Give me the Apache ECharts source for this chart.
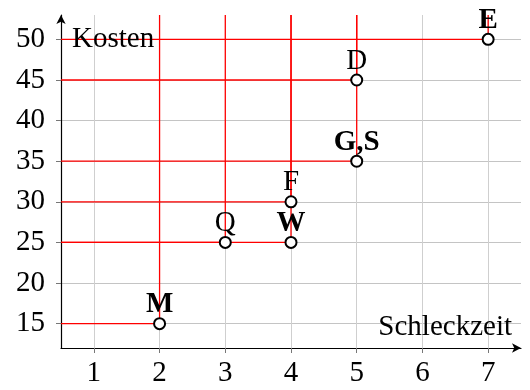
<!DOCTYPE html>
<html>
<head>
<meta charset="utf-8">
<script src="https://cdn.jsdelivr.net/npm/echarts@6/dist/echarts.min.js"></script>
<style>
  html, body { margin: 0; padding: 0; background: #fff; }
  #chart { width: 530px; height: 390px; }
</style>
</head>
<body>
<div id="chart"></div>
<script>
// tick labels
var xTicks = [1, 2, 3, 4, 5, 6, 7];
var yTicks = [15, 20, 25, 30, 35, 40, 45, 50];
// points
var names = ["M", "Q", "W", "F", "G,S", "D", "E"];
var xs = [2, 3, 4, 4, 5, 5, 7];
var ys = [15, 25, 25, 30, 35, 45, 50];
var boldLabel = [true, false, true, false, true, false, true];

var X_MIN = 0.5, X_MAX = 7.5, Y_MIN = 12, Y_MAX = 53;
var FONT = "'Liberation Serif', 'Times New Roman', serif";

var chart = echarts.init(document.getElementById("chart"));

var series = [];
// red lines: horizontal from the y axis to the point, vertical from the point to the top
for (var i = 0; i < xs.length; i++) {
  series.push({
    type: "line",
    silent: true,
    symbol: "none",
    z: 3,
    lineStyle: { color: "#ff0000", width: 1.3 },
    data: [[X_MIN, ys[i]], [xs[i], ys[i]], [xs[i], Y_MAX]]
  });
}
series.push({
  type: "scatter",
  z: 5,
  symbol: "circle",
  symbolSize: 11,
  itemStyle: { color: "#fff", borderColor: "#000", borderWidth: 2, opacity: 1 },
  label: {
    show: true,
    position: "top",
    distance: -2,
    fontFamily: FONT,
    fontSize: 29,
    color: "#000",
    formatter: function (p) { return p.name; }
  },
  data: xs.map(function (x, i) {
    return {
      name: names[i],
      value: [x, ys[i]],
      label: { fontWeight: boldLabel[i] ? "bold" : "normal" }
    };
  })
});

chart.setOption({
  animation: false,
  grid: { left: 61, right: 9, top: 15, bottom: 42 },
  xAxis: {
    type: "value",
    min: X_MIN,
    max: X_MAX,
    axisLine: { show: true, lineStyle: { color: "#000", width: 1.2 }, symbol: ["none", "arrow"], symbolSize: [7, 9], onZero: false },
    axisTick: { show: true, length: 5, customValues: xTicks, lineStyle: { color: "#777" } },
    axisLabel: { customValues: xTicks, margin: 11, fontFamily: FONT, fontSize: 29, color: "#000" },
    splitLine: { show: true, lineStyle: { color: "#cfcfcf", width: 1 } }
  },
  yAxis: {
    type: "value",
    min: Y_MIN,
    max: Y_MAX,
    axisLine: { show: true, lineStyle: { color: "#000", width: 1.2 }, symbol: ["none", "arrow"], symbolSize: [7, 9], onZero: false },
    axisTick: { show: true, length: 5, customValues: yTicks, lineStyle: { color: "#777" } },
    axisLabel: { customValues: yTicks, margin: 16, fontFamily: FONT, fontSize: 29, color: "#000" },
    splitLine: { show: true, lineStyle: { color: "#c4c4c4", width: 1 } }
  },
  graphic: [
    { type: "text", left: 72, top: 25, z: 10,
      style: { text: "Kosten", font: "29px " + FONT, fill: "#000" } },
    { type: "text", right: 18, top: 313, z: 10,
      style: { text: "Schleckzeit", font: "29px " + FONT, fill: "#000" } }
  ],
  series: series
});
</script>
</body>
</html>
